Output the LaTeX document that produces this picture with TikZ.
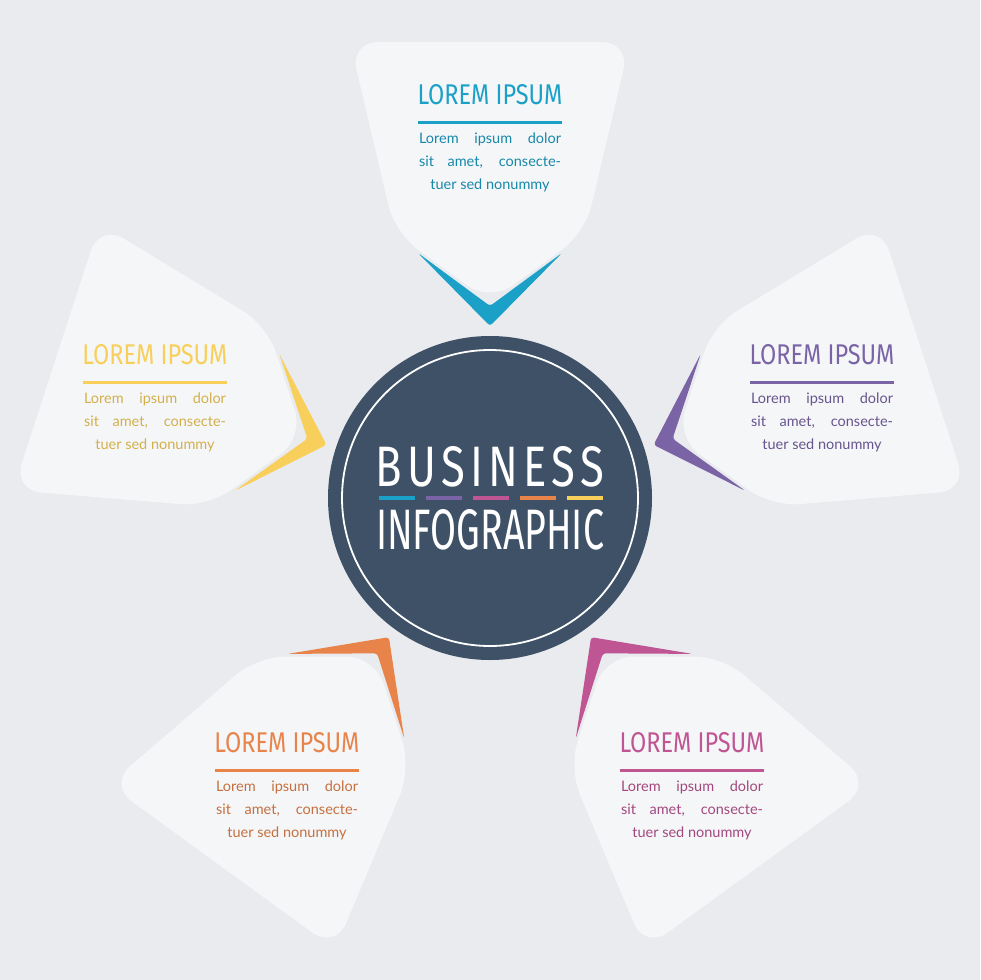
\documentclass[tikz,border=0pt]{standalone}
\usepackage{fontspec}
\setmainfont{Lato}
\newfontfamily\titlefont{Fira Sans}
\newfontfamily\bigfont[LetterSpace=12]{Fira Sans}
\definecolor{bg}{HTML}{E9EBEF}
\definecolor{card}{HTML}{F5F6F8}
\definecolor{navy}{HTML}{3E5167}
\definecolor{cblue}{HTML}{1BA0C8}
\definecolor{cpurple}{HTML}{7A64A6}
\definecolor{cmag}{HTML}{C05594}
\definecolor{corange}{HTML}{E8844A}
\definecolor{cyellow}{HTML}{F8CF5A}
\tikzset{
  cardshape/.style={fill=card, rounded corners=28pt},
  chev/.style={fill=#1, rounded corners=3pt},
  ttl/.style={text=#1, inner sep=0pt},
  body/.style={text=#1!85!black, inner sep=0pt, font=\fontsize{14.5}{23}\selectfont, align=center},
}
\newcommand\cardtext[4]{% name, x, y, color
  \node[ttl=#4] (#1t) at (#2,#3) {\titlefont\resizebox{145pt}{20pt}{LOREM IPSUM}};
  \draw[#4, line width=3pt] ([yshift=-27pt]#1t.center) ++(-72pt,0) coordinate (#1a) -- ++(144pt,0) coordinate (#1b);
  \node[body=#4, anchor=north] (#1x) at ([yshift=-38pt]#1t.center) {\makebox[142pt][s]{Lorem ipsum dolor}\\ \makebox[142pt][s]{sit amet, consecte-}\\ tuer sed nonummy};
}
\begin{document}
\begin{tikzpicture}[x=1pt,y=-1pt]
\fill[bg] (0,0) rectangle (980,980);
\useasboundingbox (0,0) rectangle (980,980);
\foreach \ang/\col in {0/cblue, -72/cpurple, -144/cmag, -216/corange, -288/cyellow}{
  \begin{scope}[rotate around={\ang:(490,498)}]
    \fill[chev=\col] (418,253) -- (490,326) -- (562,253) -- (490,306) -- cycle;
    \fill[cardshape] (350,42) -- (630,42) -- (585,233) -- (490,302) -- (395,233) -- cycle;
  \end{scope}
}
\cardtext{c1}{490}{95}{cblue}
\cardtext{c2}{822}{355}{cpurple}
\cardtext{c3}{692}{743}{cmag}
\cardtext{c4}{287}{743}{corange}
\cardtext{c5}{155}{355}{cyellow}
\coordinate (hub) at (490,498);
\fill[navy] (hub) circle[radius=162pt];
\draw[white, line width=1.8pt] (hub) circle[radius=148pt];
\node[text=white, inner sep=0pt] (b1) at (490,467) {\bigfont\resizebox{228pt}{40pt}{BUSINESS}};
\node[text=white, inner sep=0pt] (b2) at (490,530) {\titlefont\resizebox{228pt}{40pt}{INFOGRAPHIC}};
\foreach \i/\col in {0/cblue,1/cpurple,2/cmag,3/corange,4/cyellow}{
  \draw[\col, line width=4pt] (379+\i*47,498) -- ++(36,0);
}
\end{tikzpicture}
\end{document}
